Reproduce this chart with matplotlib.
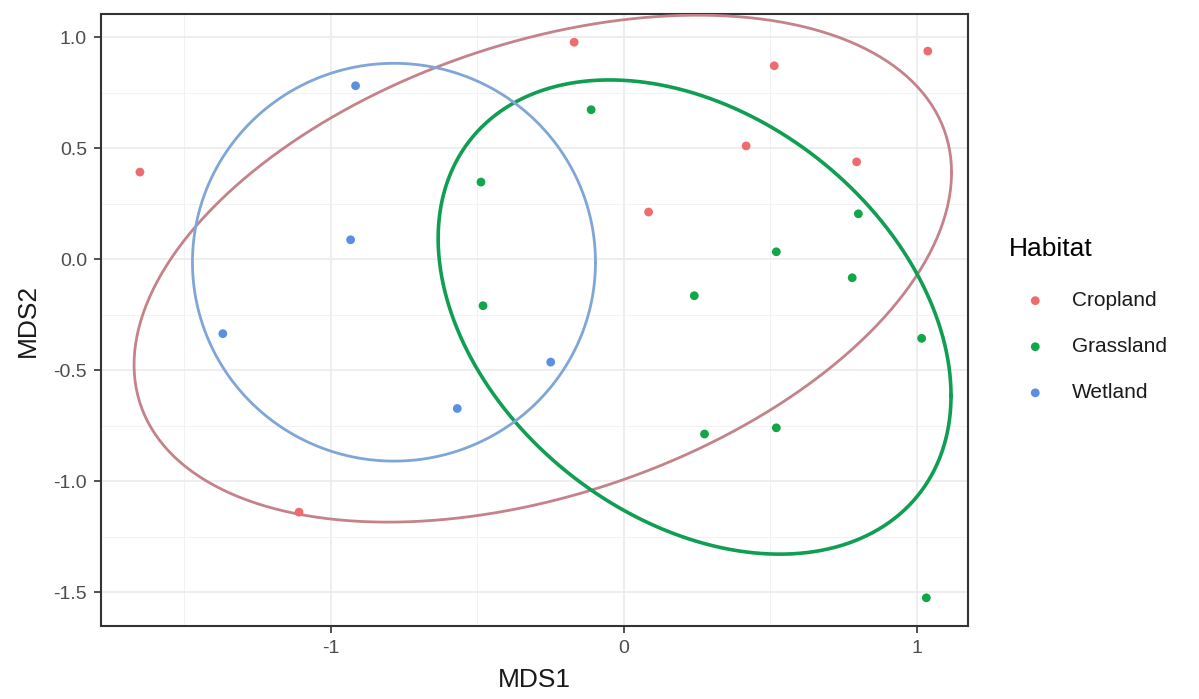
import numpy as np
import matplotlib
matplotlib.use('Agg')
import matplotlib.pyplot as plt

plt.rcParams['font.family'] = ['Liberation Sans', 'DejaVu Sans']

habitats = ['Cropland', 'Grassland', 'Wetland']
colors = ['#EE6B6E', '#12A64A', '#5B8FE0']
ellipse_colors = ['#C4828A', '#0F9E52', '#7FA6D6']
ellipse_widths = [2.0, 2.6, 2.0]

# NMDS scores
crop_x = [-1.652, -1.109, -0.170, 0.513, 1.037, 0.417, 0.794, 0.084]
crop_y = [0.392, -1.140, 0.977, 0.871, 0.937, 0.510, 0.438, 0.212]
grass_x = [-0.112, -0.488, -0.481, 0.800, 0.520, 0.779, 0.240, 1.016, 0.275, 0.520, 1.032]
grass_y = [0.673, 0.347, -0.210, 0.204, 0.033, -0.084, -0.165, -0.357, -0.788, -0.760, -1.526]
wet_x = [-0.250, -0.569, -0.916, -0.933, -1.369]
wet_y = [-0.464, -0.673, 0.781, 0.087, -0.336]

# ellipse centre and shape matrix (var x, var y, cov xy)
ell_cx = [-0.277, 0.241, -0.785]
ell_cy = [-0.043, -0.261, -0.014]
ell_sxx = [1.946, 0.766, 0.473]
ell_syy = [1.304, 1.141, 0.803]
ell_sxy = [0.604, -0.310, 0.0]

xs = [crop_x, grass_x, wet_x]
ys = [crop_y, grass_y, wet_y]

fig = plt.figure(figsize=(11.99, 6.99), dpi=100)
ax = fig.add_axes([0.0842, 0.1044, 0.7231, 0.8755])

t = np.linspace(0, 2 * np.pi, 400)
circle = np.vstack([np.cos(t), np.sin(t)])
for i in range(3):
    m = np.array([[ell_sxx[i], ell_sxy[i]], [ell_sxy[i], ell_syy[i]]])
    L = np.linalg.cholesky(m)
    pts = L @ circle
    ax.plot(pts[0] + ell_cx[i], pts[1] + ell_cy[i], color=ellipse_colors[i],
            lw=ellipse_widths[i], zorder=3)

for i in range(3):
    ax.scatter(xs[i], ys[i], s=40, color=colors[i], edgecolors='none', zorder=4,
               label=habitats[i])

ax.set_xlim(-1.785, 1.174)
ax.set_ylim(-1.653, 1.104)
ax.set_xticks([-1, 0, 1])
ax.set_xticklabels(['-1', '0', '1'])
ax.set_yticks([-1.5, -1.0, -0.5, 0.0, 0.5, 1.0])
ax.set_yticklabels(['-1.5', '-1.0', '-0.5', '0.0', '0.5', '1.0'])
ax.set_xticks([-1.5, -0.5, 0.5], minor=True)
ax.set_yticks([-1.25, -0.75, -0.25, 0.25, 0.75], minor=True)
ax.grid(which='major', color='#EBEBEB', lw=1.2, zorder=0)
ax.grid(which='minor', color='#F2F2F2', lw=0.7, zorder=0)
ax.set_axisbelow(True)
ax.tick_params(which='minor', length=0)
ax.tick_params(which='major', length=5, width=1.2, color='#333333',
               labelsize=14, labelcolor='#4D4D4D', pad=5)
for s in ax.spines.values():
    s.set_color('#333333')
    s.set_linewidth(1.5)

ax.set_xlabel('MDS1', fontsize=19, color='#1A1A1A', labelpad=8)
ax.set_ylabel('MDS2', fontsize=19, color='#1A1A1A', labelpad=10)

leg = ax.legend(title='Habitat', loc='upper left', bbox_to_anchor=(1.038, 0.65),
                frameon=False, fontsize=15, title_fontsize=19, markerscale=1.0,
                handlelength=2.5, handletextpad=0.5, labelspacing=1.3,
                borderaxespad=0)
leg._legend_box.align = 'left'
leg._legend_box.sep = 22
for txt in leg.get_texts():
    txt.set_color('#1A1A1A')

fig.savefig('out.png', dpi=100)
